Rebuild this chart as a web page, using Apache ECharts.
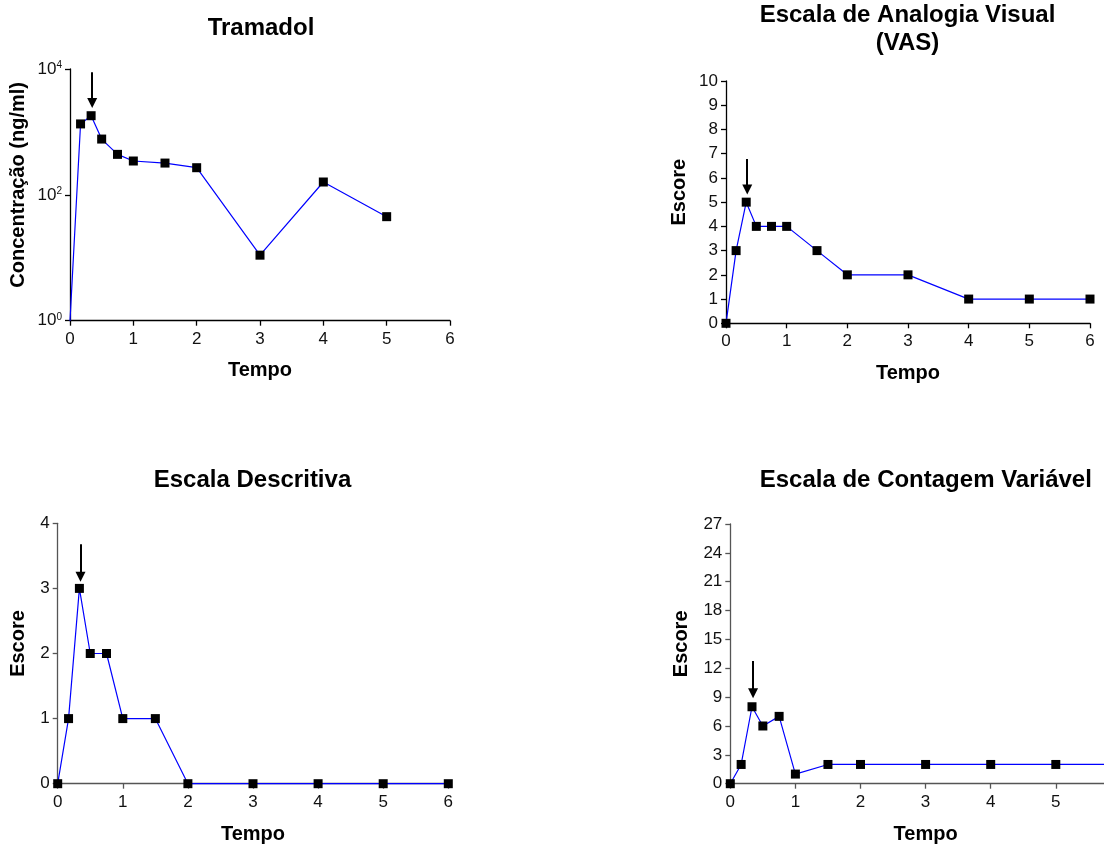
<!DOCTYPE html>
<html>
<head>
<meta charset="utf-8">
<script src="https://cdn.jsdelivr.net/npm/echarts@6/dist/echarts.min.js"></script>
<style>
  html, body { margin: 0; padding: 0; background: #fff; }
  #chart { width: 1104px; height: 847px; }
</style>
</head>
<body>
<div id="chart"></div>
<script>
// Sampling times (h) and measured values for each panel
const tempo = [0, 1 / 6, 1 / 3, 0.5, 0.75, 1, 1.5, 2, 3, 4, 5, 6];
const tramadolTempo = [0, 1 / 6, 1 / 3, 0.5, 0.75, 1, 1.5, 2, 3, 4, 5];
const tramadolConc = [1, 1340, 1810, 770, 440, 345, 320, 270, 11, 160, 45];
const vasEscore = [0, 3, 5, 4, 4, 4, 3, 2, 2, 1, 1, 1];
const descritivaEscore = [0, 1, 3, 2, 2, 1, 1, 0, 0, 0, 0, 0];
const contagemEscore = [0, 2, 8, 6, 7, 1, 2, 2, 2, 2, 2, 2];

// Arrow marking the peak: x position and [start, head] values per panel
const arrowTempo = 0.35;
const arrowTramadol = [8900, 2890];
const arrowVas = [6.78, 5.52];
const arrowDescritiva = [3.68, 3.18];
const arrowContagem = [12.75, 9.4];

const titulos = ['Tramadol', 'Escala de Analogia Visual\n(VAS)', 'Escala Descritiva', 'Escala de Contagem Variável'];
const nomeX = 'Tempo';
const nomesY = ['Concentração (ng/ml)', 'Escore', 'Escore', 'Escore'];

const FONT = '"Liberation Sans", Arial, Helvetica, sans-serif';

const grids = [
  { left: 70, top: 69, width: 380, height: 251.7 },
  { left: 726, top: 81, width: 364, height: 242.3 },
  { left: 57.7, top: 523.3, width: 390.6, height: 260.4 },
  { left: 730.3, top: 524, width: 390.6, height: 259.7 }
].map(g => Object.assign({ outerBoundsMode: 'none', containLabel: false }, g));
const axisColors = ['#000', '#000', '#555', '#555'];
const xNameGaps = [40, 40, 41, 41];
const yNameGaps = [42, 37, 29, 39];

function xAxis(i) {
  return {
    gridIndex: i, type: 'value', min: 0, max: 6, interval: 1,
    name: nomeX, nameLocation: 'middle', nameGap: xNameGaps[i],
    nameTextStyle: { fontFamily: FONT, fontWeight: 'bold', fontSize: 20, color: '#000' },
    axisLine: { onZero: false, lineStyle: { color: axisColors[i], width: 1.3 } },
    axisTick: { inside: false, length: 5, lineStyle: { color: axisColors[i], width: 1.3 } },
    axisLabel: { margin: 10, fontFamily: FONT, fontSize: 17, color: '#111' },
    splitLine: { show: false }
  };
}

function yAxis(i, extra) {
  return Object.assign({
    gridIndex: i,
    name: nomesY[i], nameLocation: 'middle', nameGap: yNameGaps[i], nameRotate: 90,
    // the name sits a little above the middle of the axis
    nameTextStyle: { fontFamily: FONT, fontWeight: 'bold', fontSize: 20, color: '#000', padding: [0, 0, 0, 20] },
    axisLine: { onZero: false, lineStyle: { color: axisColors[i], width: 1.3 } },
    axisTick: { inside: false, length: 5, lineStyle: { color: axisColors[i], width: 1.3 } },
    axisLabel: { margin: 8, fontFamily: FONT, fontSize: 17, color: '#111' },
    splitLine: { show: false }
  }, extra);
}

function arrow(a) {
  return {
    silent: true,
    animation: false,
    label: { show: false },
    emphasis: { disabled: true },
    lineStyle: { color: '#000', width: 2, type: 'solid' },
    symbol: ['none', 'triangle'],
    symbolSize: 10,
    data: [[{ coord: [arrowTempo, a[0]] }, { coord: [arrowTempo, a[1]] }]]
  };
}

function serie(i, xs, ys, a, hideFirst) {
  return {
    type: 'line', xAxisIndex: i, yAxisIndex: i,
    data: xs.map((t, k) => (k === 0 && hideFirst) ? { value: [t, ys[k]], symbol: 'none' } : [t, ys[k]]),
    symbol: 'rect', symbolSize: 9,
    itemStyle: { color: '#000' },
    lineStyle: { color: '#0000ff', width: 1.2 },
    clip: false,
    animation: false,
    markLine: arrow(a),
    z: 3
  };
}

const titleGraphics = [
  { x: 261, y: 28, text: titulos[0] },
  { x: 907.5, y: 29.5, text: titulos[1] },
  { x: 252.5, y: 480.5, text: titulos[2] },
  { x: 925.8, y: 480.5, text: titulos[3] }
].map(t => ({
  type: 'text', x: t.x, y: t.y, silent: true,
  style: {
    text: t.text, fill: '#000', align: 'center', verticalAlign: 'middle',
    font: 'bold 24px ' + FONT, lineHeight: 28
  }
}));

const chart = echarts.init(document.getElementById('chart'), null, { renderer: 'canvas' });
chart.setOption({
  backgroundColor: '#fff',
  animation: false,
  grid: grids,
  xAxis: [xAxis(0), xAxis(1), xAxis(2), xAxis(3)],
  yAxis: [
    yAxis(0, {
      type: 'log', logBase: 100, min: 1, max: 10000,
      axisLabel: {
        margin: 8, fontFamily: FONT, fontSize: 17, color: '#111',
        formatter: v => '{b|10}{s|' + Math.round(Math.log10(v)) + '}',
        rich: {
          b: { fontFamily: FONT, fontSize: 17, lineHeight: 17, color: '#111' },
          s: { fontFamily: FONT, fontSize: 10, lineHeight: 10, verticalAlign: 'top', color: '#111' }
        }
      }
    }),
    yAxis(1, { type: 'value', min: 0, max: 10, interval: 1 }),
    yAxis(2, { type: 'value', min: 0, max: 4, interval: 1 }),
    yAxis(3, { type: 'value', min: 0, max: 27, interval: 3 })
  ],
  series: [
    serie(0, tramadolTempo, tramadolConc, arrowTramadol, true),
    serie(1, tempo, vasEscore, arrowVas, false),
    serie(2, tempo, descritivaEscore, arrowDescritiva, false),
    serie(3, tempo, contagemEscore, arrowContagem, false)
  ],
  graphic: titleGraphics
});
</script>
</body>
</html>
